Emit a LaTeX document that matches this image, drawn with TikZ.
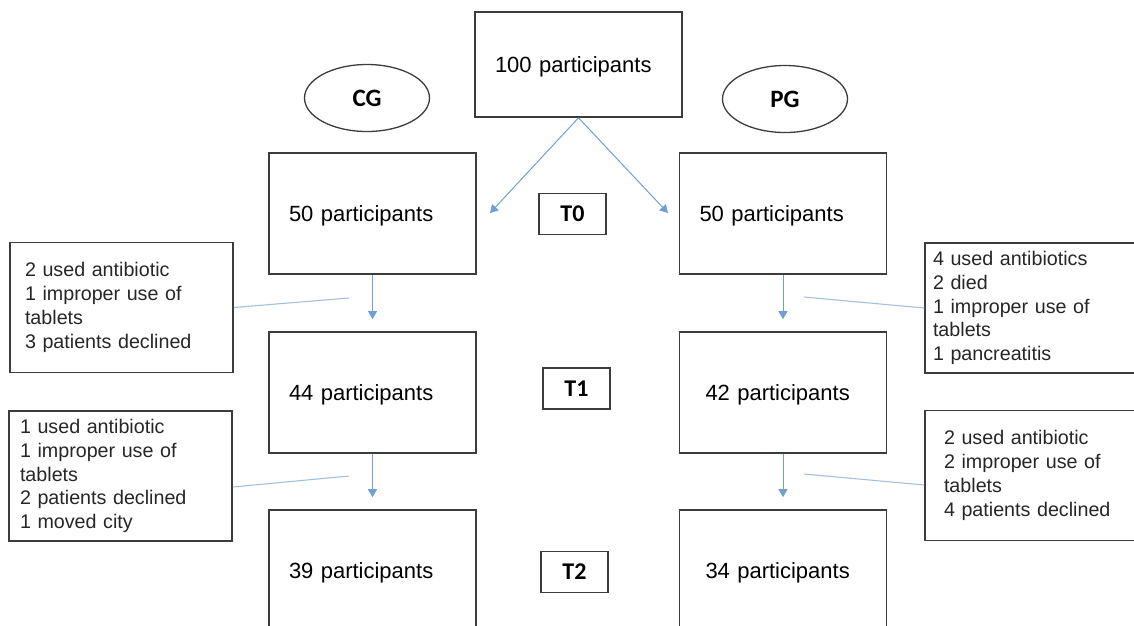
\documentclass[tikz,border=0pt]{standalone}
\usepackage{fontspec}
\setmainfont{Liberation Sans}
\newfontfamily\labelfont{Carlito}
\usetikzlibrary{arrows.meta,shapes.geometric}
\definecolor{edgegray}{RGB}{60,60,60}
\definecolor{flowblue}{RGB}{110,160,212}
\definecolor{linkblue}{RGB}{160,192,228}
\begin{document}
\begin{tikzpicture}[x=1pt,y=-1pt,
  box/.style={draw=edgegray,line width=1.6pt,minimum height=121pt,inner xsep=20pt,text width=167pt,text height=16pt,text depth=0pt,align=left,font=\fontsize{22}{26}\selectfont},
  group/.style={draw=edgegray,line width=1.3pt,ellipse,minimum width=125pt,minimum height=67pt,font=\labelfont\bfseries\fontsize{25}{30}\selectfont},
  timebox/.style={draw=edgegray,line width=1.6pt,minimum width=67pt,minimum height=41pt,font=\labelfont\bfseries\fontsize{24}{28}\selectfont},
  note/.style={draw=edgegray,line width=1.6pt,minimum width=223pt,minimum height=130pt,inner xsep=0pt,align=left,text=black!85,font=\fontsize{19.7}{23.8}\selectfont},
  flow/.style={draw=flowblue,line width=1pt,-{Triangle[width=9pt,length=8pt]}},
  link/.style={draw=linkblue,line width=1.1pt}]
  \useasboundingbox (0,0) rectangle (1134,625);
  \node[box,minimum height=105pt] (all) at (578.5,64.5) {100 participants};
  \node[group] (cg) at (367,98) {CG};
  \node[group] (pg) at (785,99) {PG};
  \node[box] (cg0) at (372.5,213.5) {50 participants};
  \node[box] (pg0) at (783,213.5) {50 participants};
  \node[box] (cg1) at (372.5,392.5) {44 participants};
  \node[box,inner xsep=26pt,text width=155pt] (pg1) at (783,392.5) {42 participants};
  \node[box] (cg2) at (372.5,570.5) {39 participants};
  \node[box,inner xsep=26pt,text width=155pt] (pg2) at (783,570.5) {34 participants};
  \node[timebox] (t0) at (572.5,214) {T0};
  \node[timebox] (t1) at (576.5,388.5) {T1};
  \node[timebox] (t2) at (574.5,572) {T2};
  \node[note,text width=193pt] (cgout1) at (121.5,307.5) {2 used antibiotic\\1 improper use of\\tablets\\3 patients declined};
  \node[note,text width=201pt] (cgout2) at (120.5,476) {1 used antibiotic\\1 improper use of\\tablets\\2 patients declined\\1 moved city};
  \node[note,text width=207pt] (pgout1) at (1036.5,308) {4 used antibiotics\\2 died\\1 improper use of\\tablets\\1 pancreatitis};
  \node[note,text width=185pt] (pgout2) at (1036.5,475.5) {2 used antibiotic\\2 improper use of\\tablets\\4 patients declined};
  \coordinate (cgin) at (490,213);
  \coordinate (pgin) at (668,213);
  \draw[flow] (all.south) -- (cgin);
  \draw[flow] (all.south) -- (pgin);
  \foreach \u/\v in {cg0/cg1,cg1/cg2,pg0/pg1,pg1/pg2}
    \draw[flow,shorten >=12pt] (\u) -- (\v);
  \coordinate (cgcut1) at (349,298);
  \coordinate (cgcut2) at (349,476);
  \coordinate (pgcut1) at (804,297);
  \coordinate (pgcut2) at (804,474);
  \draw[link] (cgout1.east) -- (cgcut1);
  \draw[link] ([yshift=-11pt]cgout2.east) -- (cgcut2);
  \draw[link] (pgout1.west) -- (pgcut1);
  \draw[link] ([yshift=-9.5pt]pgout2.west) -- (pgcut2);
\end{tikzpicture}
\end{document}
